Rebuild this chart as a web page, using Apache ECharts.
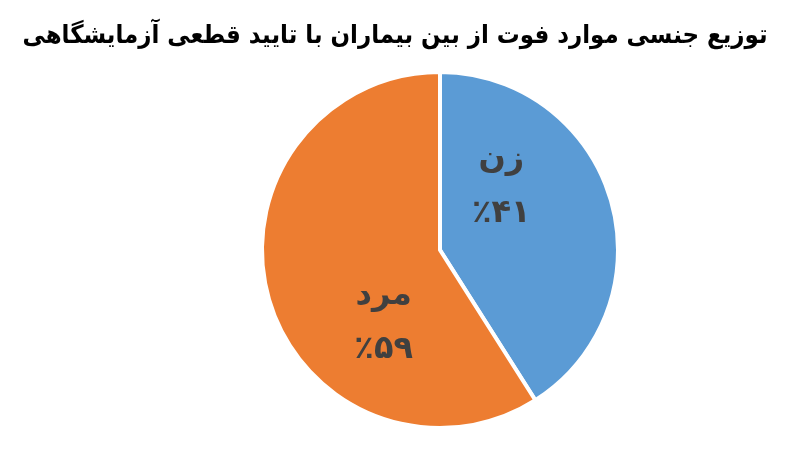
<!DOCTYPE html>
<html>
<head>
<meta charset="utf-8">
<script src="https://cdn.jsdelivr.net/npm/echarts@6/dist/echarts.min.js"></script>
<style>
  html, body { margin: 0; padding: 0; background: #fff; }
  #chart { width: 810px; height: 461px; }
</style>
</head>
<body>
<div id="chart"></div>
<script>
const titleText = 'توزیع جنسی موارد فوت از بین بیماران با تایید قطعی آزمایشگاهی';
const categories = ['زن', 'مرد'];
const values = [41, 59];
const colors = ['#5B9BD5', '#ED7D31'];
// label nudges to sit like the original
const labelShift = [[-27, -38], [32, 47]];

const faDigits = '۰۱۲۳۴۵۶۷۸۹';
const toFa = n => String(n).replace(/\d/g, d => faDigits[d]);

const myChart = echarts.init(document.getElementById('chart'));
myChart.setOption({
  backgroundColor: '#fff',
  title: {
    text: titleText,
    left: 390,
    textAlign: 'center',
    top: 18,
    textStyle: { fontFamily: 'DejaVu Sans Condensed', fontWeight: 'bold', fontSize: 25.5, color: '#000' }
  },
  series: [{
    type: 'pie',
    center: [440, 250],
    radius: 178,
    startAngle: 90,
    clockwise: true,
    itemStyle: { borderColor: '#fff', borderWidth: 4 },
    label: {
      position: 'inside',
      fontFamily: 'DejaVu Sans',
      fontWeight: 'bold',
      fontSize: 32,
      color: '#404040',
      lineHeight: 54,
      formatter: p => p.name + '\n٪' + toFa(p.value)
    },
    labelLayout: p => ({ dx: labelShift[p.dataIndex][0], dy: labelShift[p.dataIndex][1] }),
    emphasis: { disabled: true },
    data: categories.map((c, i) => ({ name: c, value: values[i], itemStyle: { color: colors[i] } }))
  }]
});
</script>
</body>
</html>
